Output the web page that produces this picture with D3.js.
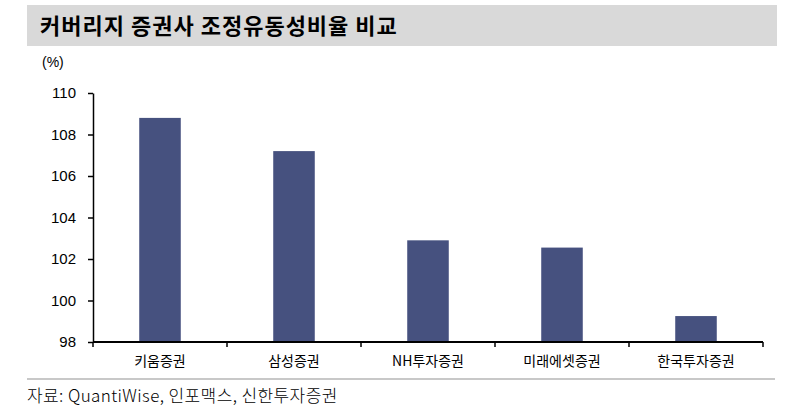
<!DOCTYPE html>
<html>
<head>
<meta charset="utf-8">
<script src="https://cdn.jsdelivr.net/npm/d3@7"></script>
<style>
  body { margin: 0; background: #fff; }
  text { font-family: "Noto Sans CJK KR", "Noto Sans", sans-serif; fill: #000; }
</style>
</head>
<body>
<div id="chart"></div>
<script>
var categories = ["키움증권", "삼성증권", "NH투자증권", "미래에셋증권", "한국투자증권"];
var ratios = [108.8, 107.2, 102.9, 102.55, 99.25];
var yTicks = [98, 100, 102, 104, 106, 108, 110];

var W = 805, H = 412;
var margin = { top: 93, right: 42, bottom: 70, left: 93 },
    width = W - margin.left - margin.right,
    height = H - margin.top - margin.bottom;

var svg = d3.select("#chart").append("svg")
    .attr("width", W)
    .attr("height", H);

// title bar
svg.append("rect")
    .attr("x", 27).attr("y", 5)
    .attr("width", 750).attr("height", 41)
    .attr("fill", "#d9d9d9");

svg.append("text")
    .attr("x", 40).attr("y", 34)
    .style("font-size", "22px")
    .style("letter-spacing", "1px")
    .style("font-weight", "bold")
    .text("커버리지 증권사 조정유동성비율 비교");

var g = svg.append("g")
    .attr("transform", "translate(" + margin.left + "," + margin.top + ")");

var x = d3.scaleBand()
    .domain(categories)
    .range([0, width])
    .padding(0);

var y = d3.scaleLinear()
    .domain([98, 110])
    .range([height, 0]);

var barW = x.bandwidth() * 0.31;

g.selectAll(".bar")
    .data(categories)
    .enter().append("rect")
    .attr("class", "bar")
    .attr("x", function (d) { return x(d) + (x.bandwidth() - barW) / 2; })
    .attr("width", barW)
    .attr("y", function (d, i) { return y(ratios[i]); })
    .attr("height", function (d, i) { return height - y(ratios[i]); })
    .attr("fill", "#46517f");

// y axis
var yAxis = g.append("g")
    .call(d3.axisLeft(y).tickValues(yTicks).tickSize(5).tickPadding(12).tickSizeOuter(0));
yAxis.select(".domain").attr("stroke", "#000").attr("stroke-width", 1.5);
yAxis.selectAll(".tick line").attr("stroke", "#000").attr("stroke-width", 1.5);
yAxis.selectAll(".tick text")
    .style("font-size", "15px")
    .style("font-family", "'Liberation Sans', Arial, sans-serif");

// x axis with ticks at band edges
var xAxis = g.append("g")
    .attr("transform", "translate(0," + height + ")")
    .call(d3.axisBottom(x).tickSize(0).tickPadding(14));
xAxis.select(".domain").remove();
xAxis.selectAll(".tick text").style("font-size", "14px");

xAxis.append("line")
    .attr("x1", 0).attr("x2", width)
    .attr("stroke", "#000").attr("stroke-width", 2);

var edges = categories.map(function (d) { return x(d); }).concat([width]);
xAxis.selectAll(".edge")
    .data(edges)
    .enter().append("line")
    .attr("class", "edge")
    .attr("x1", function (d) { return d; })
    .attr("x2", function (d) { return d; })
    .attr("y1", 0).attr("y2", 5)
    .attr("stroke", "#000").attr("stroke-width", 1.5);

svg.append("text")
    .attr("x", 42).attr("y", 67)
    .style("font-size", "14px")
    .style("font-family", "'Liberation Sans', Arial, sans-serif")
    .text("(%)");

// footer
svg.append("line")
    .attr("x1", 27).attr("x2", 775)
    .attr("y1", 379).attr("y2", 379)
    .attr("stroke", "#c8c8c8").attr("stroke-width", 2);

svg.append("text")
    .attr("x", 27).attr("y", 402)
    .style("font-size", "17px")
    .style("letter-spacing", "0.4px")
    .style("font-weight", "300")
    .text("자료: QuantiWise, 인포맥스, 신한투자증권");
</script>
</body>
</html>
